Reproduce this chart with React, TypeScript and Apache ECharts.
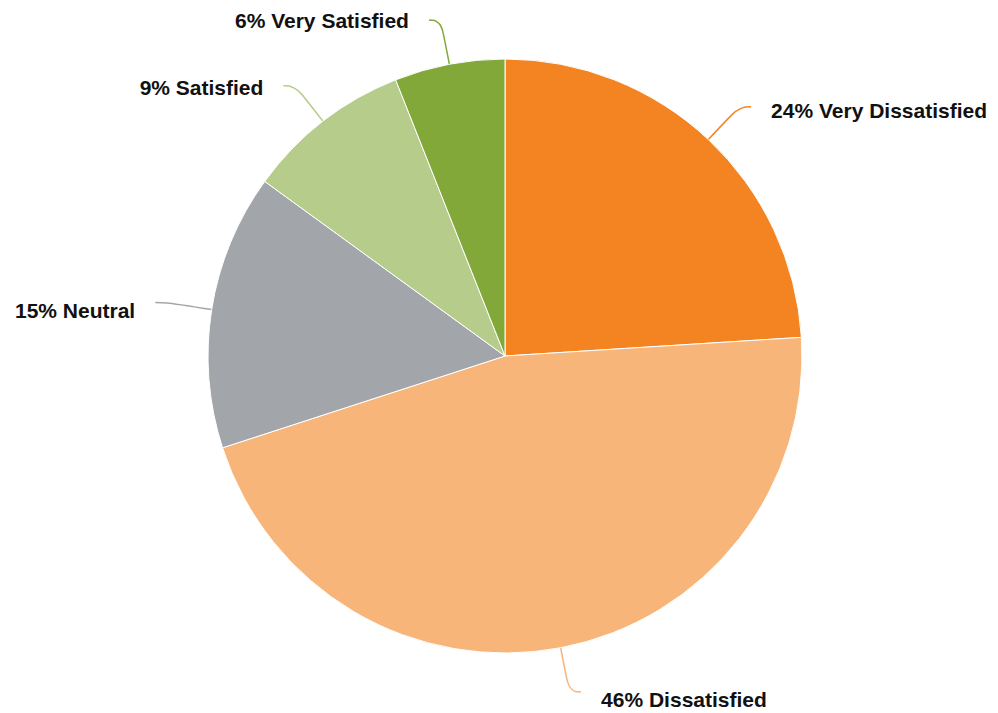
import React, { useEffect, useRef } from "react";
import * as echarts from "echarts";

const categories = ["Very Dissatisfied", "Dissatisfied", "Neutral", "Satisfied", "Very Satisfied"];
const values = [24, 46, 15, 9, 6];
const colors = ["#F48422", "#F8B57A", "#A2A6AA", "#B5CC8A", "#83A83A"];
const labelShiftY = [4, 8, 8, 2, 0];

export default function App() {
  const ref = useRef<HTMLDivElement>(null);
  useEffect(() => {
    if (!ref.current) return;
    const chart = echarts.init(ref.current, undefined, { renderer: "svg" });
    chart.setOption({
      animation: false,
      backgroundColor: "#ffffff",
      series: [
        {
          type: "pie",
          center: [505, 356],
          radius: 297,
          startAngle: 90,
          clockwise: true,
          avoidLabelOverlap: false,
          data: categories.map((name, i) => ({
            name,
            value: values[i],
            itemStyle: { color: colors[i] },
            labelLine: { lineStyle: { color: colors[i] } },
          })),
          itemStyle: { borderColor: "#ffffff", borderWidth: 1 },
          label: {
            show: true,
            position: "outside",
            formatter: "{c}% {b}",
            color: "#111111",
            fontFamily: "Liberation Sans, Arial, Helvetica, sans-serif",
            fontWeight: "bold",
            fontSize: 21,
            distanceToLabelLine: 20,
          },
          labelLayout: (params: any) => ({ dy: labelShiftY[params.dataIndex] || 0 }),
          labelLine: {
            show: true,
            length: 45,
            length2: 12,
            smooth: 0.5,
            lineStyle: { width: 1.5 },
          },
          emphasis: { disabled: true },
        },
      ],
    });
    return () => chart.dispose();
  }, []);
  return (
    <div
      ref={ref}
      style={{ position: "fixed", left: 0, top: 0, width: 998, height: 713, background: "#fff" }}
    />
  );
}
